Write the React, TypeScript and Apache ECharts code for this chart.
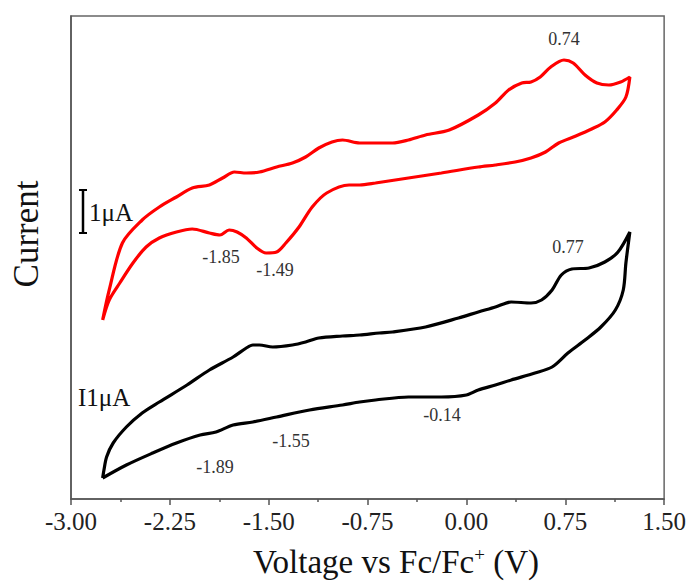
import React, { useEffect, useRef } from "react";
import * as echarts from "echarts";

// Red CV (top trace) – voltage (V vs Fc/Fc+) and current (arbitrary units, offset for display)
const redVoltage = [
  -2.76, -2.71, -2.61, -2.46, -2.33, -2.2, -2.08, -1.95, -1.85, -1.76, -1.67, -1.57, -1.44, -1.32,
  -1.22, -1.12, -1.02, -0.94, -0.81, -0.66, -0.56, -0.44, -0.31, -0.13, 0.09, 0.22, 0.32, 0.42, 0.49,
  0.56, 0.64, 0.74, 0.81, 0.9, 0.99, 1.08, 1.17, 1.24,
  1.21, 1.14, 1.05, 0.95, 0.83, 0.7, 0.6, 0.49, 0.37, 0.22, 0.09, -0.19, -0.44, -0.69, -0.81, -0.89,
  -1.06, -1.17, -1.27, -1.37, -1.44, -1.52, -1.59, -1.67, -1.74, -1.8, -1.87, -1.95, -2.08, -2.2,
  -2.33, -2.43, -2.53, -2.63, -2.71, -2.76,
];
const redCurrent = [
  179, 209, 256, 279, 292, 302, 311, 314, 321, 327, 326, 327, 332, 336,
  342, 351, 357, 359, 356, 356, 356, 359, 364, 369, 384, 396, 409, 416, 417,
  422, 432, 439, 436, 424, 416, 414, 417, 422,
  402, 389, 377, 370, 363, 356, 347, 341, 337, 334, 332, 326, 321, 316, 314, 314,
  306, 292, 272, 256, 247, 246, 251, 261, 267, 269, 264, 266, 270, 267,
  261, 252, 236, 216, 199, 179,
];

// Black CV (bottom trace)
const blackVoltage = [
  -2.76, -2.75, -2.73, -2.68, -2.58, -2.46, -2.33, -2.12, -1.95, -1.77, -1.67, -1.62, -1.57, -1.47,
  -1.32, -1.22, -1.12, -0.94, -0.81, -0.66, -0.56, -0.31, -0.06, 0.09, 0.22, 0.34, 0.49, 0.57, 0.65,
  0.72, 0.8, 0.93, 1.05, 1.15, 1.24,
  1.21, 1.19, 1.13, 1.02, 0.9, 0.77, 0.65, 0.52, 0.34, 0.22, 0.09, 0.0, -0.19, -0.44, -0.69, -0.81,
  -0.94, -1.19, -1.44, -1.62, -1.77, -1.9, -2.02, -2.2, -2.38, -2.58, -2.76,
];
const blackCurrent = [
  21, 29, 42, 56, 72, 86, 97, 114, 129, 142, 151, 154, 154, 152,
  154, 157, 161, 163, 164, 166, 167, 172, 181, 187, 192, 197, 196, 199, 209,
  224, 230, 231, 237, 247, 267,
  236, 209, 189, 172, 159, 146, 132, 126, 119, 114, 109, 104, 102, 102, 99, 97,
  94, 89, 82, 77, 74, 67, 64, 56, 46, 34, 21,
];

const xTicks = { min: -3, max: 1.5, interval: 0.75 };

// Peak annotations: text and label centre position in the picture
const peakLabels = ["0.74", "-1.85", "-1.49", "0.77", "-0.14", "-1.55", "-1.89"];
const peakLabelPos = [
  [564, 39],
  [221, 257],
  [275, 270],
  [568, 247],
  [442, 415],
  [291, 441],
  [215, 467],
];

const FONT = "'Liberation Serif', 'Times New Roman', serif";

export default function App() {
  const ref = useRef<HTMLDivElement>(null);

  useEffect(() => {
    if (!ref.current) return;
    const chart = echarts.init(ref.current, null, { renderer: "svg" });

    const zip = (xs: number[], ys: number[]) => xs.map((x, i) => [x, ys[i]]);

    const peakTexts = peakLabels.map((t, i) => ({
      type: "text",
      x: peakLabelPos[i][0],
      y: peakLabelPos[i][1],
      style: {
        text: t,
        fontFamily: FONT,
        fontSize: 18,
        fill: "#333",
        align: "center",
        verticalAlign: "middle",
      },
      silent: true,
    }));

    chart.setOption({
      animation: false,
      backgroundColor: "#fff",
      grid: {
        left: 71,
        top: 16,
        right: 23,
        bottom: 83,
        show: true,
        borderColor: "#666",
        borderWidth: 1.5,
        backgroundColor: "transparent",
      },
      xAxis: {
        type: "value",
        min: xTicks.min,
        max: xTicks.max,
        interval: xTicks.interval,
        axisLine: { show: true, onZero: false, lineStyle: { color: "#555", width: 1.5 } },
        axisTick: { show: true, length: 6, lineStyle: { color: "#555", width: 1.5 } },
        minorTick: { show: true, splitNumber: 2, length: 3, lineStyle: { color: "#555", width: 1.5 } },
        splitLine: { show: false },
        axisLabel: {
          formatter: (v: number) => v.toFixed(2),
          fontFamily: FONT,
          fontSize: 25,
          color: "#222",
          margin: 10,
        },
      },
      yAxis: {
        type: "value",
        min: 0,
        max: 483,
        axisLine: { show: true, onZero: false, lineStyle: { color: "#555", width: 1.5 } },
        axisTick: { show: false },
        axisLabel: { show: false },
        splitLine: { show: false },
      },
      series: [
        {
          type: "line",
          name: "red",
          data: zip(redVoltage, redCurrent),
          showSymbol: false,
          smooth: 0.3,
          lineStyle: { color: "#ff0000", width: 3.2 },
          itemStyle: { color: "#ff0000" },
        },
        {
          type: "line",
          name: "black",
          data: zip(blackVoltage, blackCurrent),
          showSymbol: false,
          smooth: 0.3,
          lineStyle: { color: "#000", width: 3.2 },
          itemStyle: { color: "#000" },
        },
      ],
      graphic: [
        {
          type: "text",
          x: 26,
          y: 234,
          rotation: Math.PI / 2,
          style: {
            text: "Current",
            fontFamily: FONT,
            fontSize: 35,
            fill: "#111",
            align: "center",
            verticalAlign: "middle",
          },
        },
        {
          type: "text",
          x: 396,
          y: 562,
          style: {
            text: "Voltage vs Fc/Fc{sup|+} (V)",
            fontFamily: FONT,
            fontSize: 33,
            fill: "#111",
            align: "center",
            verticalAlign: "middle",
            rich: {
              sup: { fontFamily: FONT, fontSize: 19, verticalAlign: "top", padding: [0, 0, 16, 0], fill: "#111" },
            },
          },
        },
        // red scale bar
        { type: "line", shape: { x1: 83, y1: 190, x2: 83, y2: 233 }, style: { stroke: "#000", lineWidth: 2.5 } },
        { type: "line", shape: { x1: 79, y1: 190, x2: 87, y2: 190 }, style: { stroke: "#000", lineWidth: 2 } },
        { type: "line", shape: { x1: 79, y1: 233, x2: 87, y2: 233 }, style: { stroke: "#000", lineWidth: 2 } },
        {
          type: "text",
          x: 89,
          y: 212,
          style: { text: "1μA", fontFamily: FONT, fontSize: 25, fill: "#111", align: "left", verticalAlign: "middle" },
        },
        {
          type: "text",
          x: 78,
          y: 397,
          style: { text: "I1μA", fontFamily: FONT, fontSize: 25, fill: "#111", align: "left", verticalAlign: "middle" },
        },
        ...peakTexts,
      ],
    });

    return () => chart.dispose();
  }, []);

  return (
    <div
      ref={ref}
      style={{ position: "fixed", left: 0, top: 0, width: 689, height: 582, background: "#fff" }}
    />
  );
}
